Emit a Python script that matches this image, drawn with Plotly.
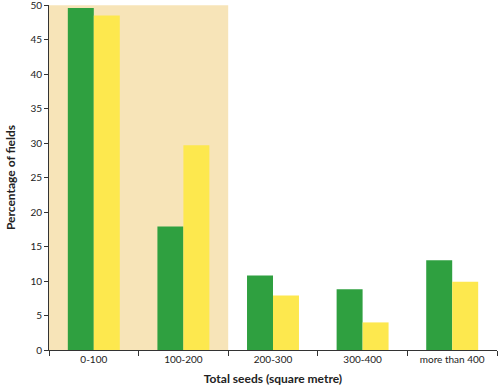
import plotly.graph_objects as go

categories = ["0-100", "100-200", "200-300", "300-400", "more than 400"]
green_values = [49.6, 17.9, 10.8, 8.8, 13.0]
yellow_values = [48.5, 29.7, 7.9, 4.0, 9.9]
y_ticks = [0, 5, 10, 15, 20, 25, 30, 35, 40, 45, 50]

font_family = "Lato, Open Sans, sans-serif"

fig = go.Figure()
fig.add_trace(go.Bar(x=categories, y=green_values, marker=dict(color="#2fa040", line=dict(width=0)), name="green"))
fig.add_trace(go.Bar(x=categories, y=yellow_values, marker=dict(color="#fde84e", line=dict(width=0)), name="yellow"))

# highlighted background covering the first two categories
fig.add_shape(type="rect", xref="x", yref="y", x0=-0.5, x1=1.5, y0=0, y1=50,
              fillcolor="#f7e4b8", line=dict(width=0), layer="below")

fig.update_layout(
    width=500, height=390,
    margin=dict(l=49, r=3, t=5, b=40, autoexpand=False),
    paper_bgcolor="white", plot_bgcolor="white",
    showlegend=False,
    barmode="group", bargap=0.42, bargroupgap=0,
    font=dict(family=font_family, size=10, color="#222"),
    xaxis=dict(
        type="category", showline=True, linecolor="#333", linewidth=1,
        ticks="outside", tickson="boundaries", ticklen=5, tickcolor="#333",
        showgrid=False, tickfont=dict(size=10), automargin=False,
        title=dict(text="<b>Total seeds (square metre)</b>", font=dict(size=12), standoff=10),
    ),
    yaxis=dict(
        range=[0, 50.02], tickvals=y_ticks, showline=True, linecolor="#333", linewidth=1,
        ticks="outside", ticklen=4, tickcolor="#333", showgrid=False, zeroline=False,
        tickfont=dict(size=10), automargin=False, ticklabeloverflow="allow",
        title=dict(text="<b>Percentage of fields</b>", font=dict(size=12), standoff=12),
    ),
)

fig.write_html("out.html", config={"displayModeBar": False},
               post_script="document.body.style.margin='0';")
